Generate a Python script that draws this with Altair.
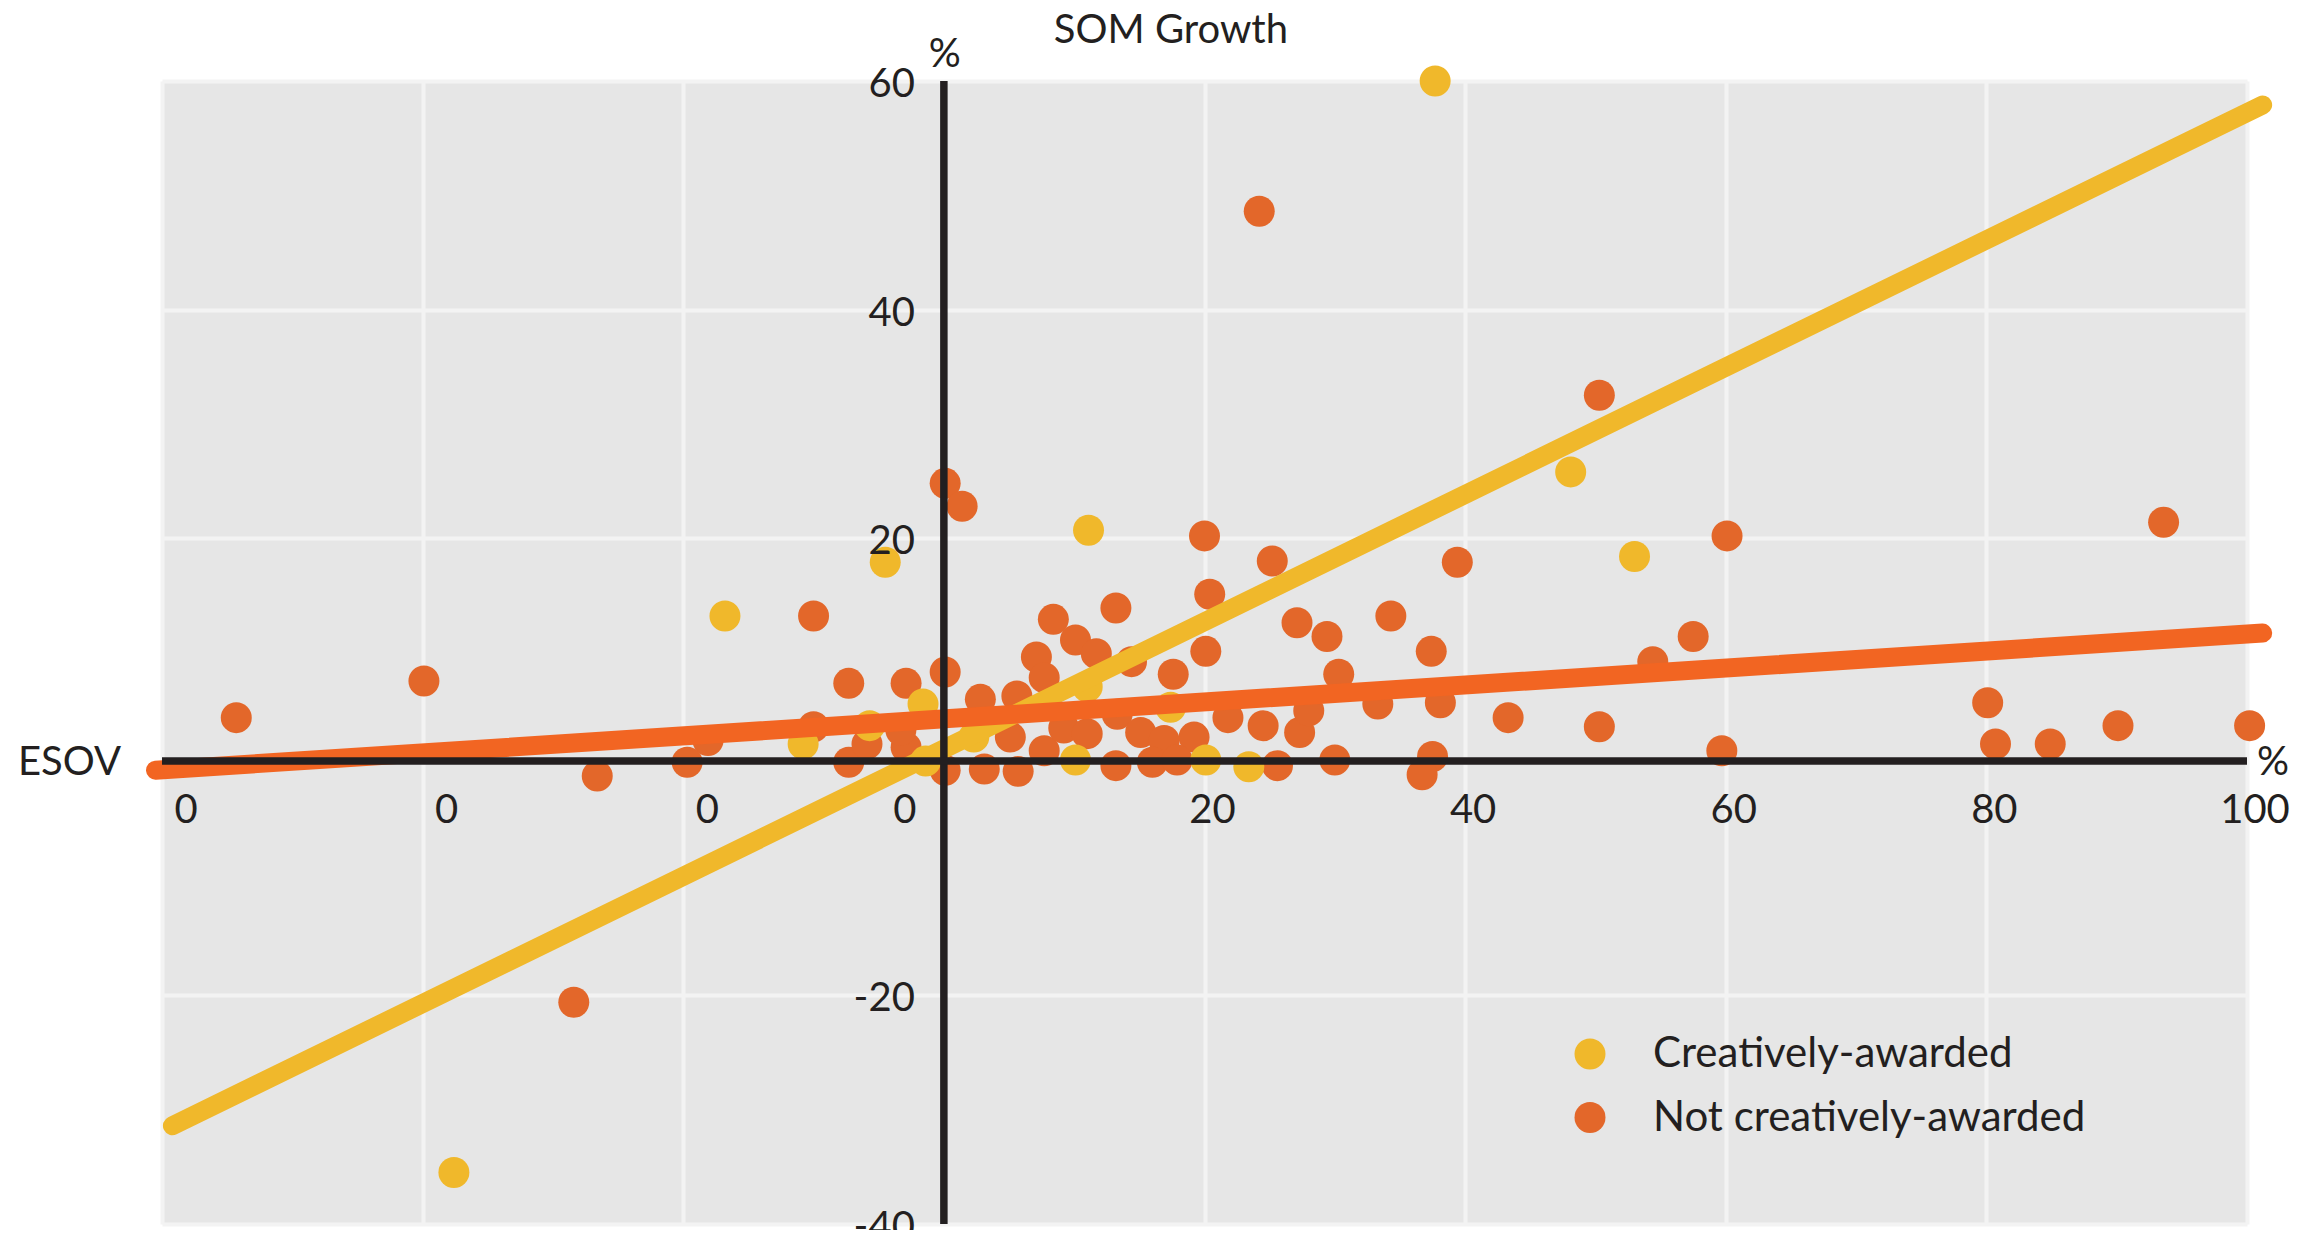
import altair as alt
import pandas as pd

FONT = "Lato"
INK = "#231f20"

# ---- data ----
groups = ["Creatively-awarded", "Not creatively-awarded"]
group_colors = ["#f0b82b", "#e3672a"]

awarded_x = [-37.6, -16.8, -4.5, -10.8, -5.7, -1.6, -1.4, 2.3, 11.0, 17.4, 10.1, 20.1, 23.4, 11.1, 37.7, 48.1, 53.0]
awarded_y = [-35.5, 13.2, 17.9, 2.0, 3.6, 5.5, 0.5, 2.6, 7.0, 5.2, 0.6, 0.6, 0.0, 20.7, 60.0, 25.8, 18.4]

not_awarded_x = [-54.3, -39.9, -26.6, -28.4, -10.0, -7.3, -2.9, 0.1, -10.0, -18.1, -19.7, -7.3, -5.9, -2.9, -3.3,
                 0.1, 2.8, 5.6, 7.1, 8.4, 10.1, 11.7, 13.2, 14.4, 20.4, 20.1, 17.6, 7.7, 13.3, 21.8,
                 5.1, 7.7, 9.2, 11.0, 15.1, 16.9, 19.2, 3.1, 5.7, 13.2, 16.0, 17.9, 0.1, 1.4, 20.0,
                 25.2, 24.2, 50.3, 39.4, 60.1, 27.1, 29.4, 34.3, 37.4, 30.3, 33.3, 38.1, 43.3, 24.5, 27.3,
                 28.0, 25.6, 30.0, 37.5, 36.7, 57.5, 54.4, 50.3, 59.7, 93.6, 80.1, 80.7, 84.9, 90.1, 100.2]
not_awarded_y = [4.3, 7.5, -0.8, -20.6, 13.2, 7.3, 7.3, 8.3, 3.5, 2.3, 0.4, 0.4, 2.0, 1.7, 3.2,
                 -0.3, 5.9, 6.2, 9.6, 12.9, 11.1, 9.9, 13.9, 9.2, 15.1, 10.1, 8.1, 7.8, 4.6, 4.3,
                 2.6, 1.4, 3.4, 2.9, 3.0, 2.3, 2.6, -0.2, -0.4, 0.1, 0.4, 0.6, 24.8, 22.8, 20.2,
                 18.0, 48.6, 32.5, 17.9, 20.2, 12.6, 11.4, 13.2, 10.1, 8.1, 5.5, 5.6, 4.3, 3.6, 3.0,
                 4.9, 0.1, 0.6, 0.9, -0.7, 11.4, 9.2, 3.5, 1.4, 21.4, 5.6, 2.0, 2.0, 3.6, 3.6]

trend_awarded_x = [-59.2, 101.2]
trend_awarded_y = [-31.4, 57.9]
trend_not_x = [-60.5, 101.2]
trend_not_y = [-0.3, 11.7]

x_ticks = [-60, -40, -20, 0, 20, 40, 60, 80, 100]
x_tick_labels = ["0", "0", "0", "0", "20", "40", "60", "80", "100"]
y_grid = [-40, -20, 20, 40, 60]
y_label_values = [-40, -20, 20, 40, 60]
y_label_texts = ["-40", "-20", "20", "40", "60"]

# level at which the reference draws its ESOV axis line (it sits slightly above the 0 grid position)
ESOV_AXIS_LEVEL = 0.5

X_DOMAIN = [-60, 100]
Y_DOMAIN = [-40, 60]

# ---- tables ----
points = pd.concat([
    pd.DataFrame({"esov": not_awarded_x, "som": not_awarded_y, "group": groups[1], "order": 0}),
    pd.DataFrame({"esov": awarded_x, "som": awarded_y, "group": groups[0], "order": 1}),
], ignore_index=True)

trend_aw = pd.DataFrame({"esov": trend_awarded_x, "som": trend_awarded_y})
trend_not = pd.DataFrame({"esov": trend_not_x, "som": trend_not_y})

xl = pd.DataFrame({"v": x_ticks, "t": x_tick_labels, "lvl": ESOV_AXIS_LEVEL})
xl_neg = xl[xl.v < 0]
xl_zero = xl[xl.v == 0]
xl_pos = xl[xl.v > 0]
yl = pd.DataFrame({"v": y_label_values, "t": y_label_texts, "lvl": 0})

xs = alt.Scale(domain=X_DOMAIN, nice=False, zero=False)
ys = alt.Scale(domain=Y_DOMAIN, nice=False, zero=False)

grid_x = alt.Axis(values=x_ticks, grid=True, labels=False, ticks=False, domain=False, title=None,
                  gridColor="#f3f3f3", gridWidth=4)
grid_y = alt.Axis(values=y_grid, grid=True, labels=False, ticks=False, domain=False, title=None,
                  gridColor="#f3f3f3", gridWidth=4)

pts = alt.Chart(points).mark_circle(size=960, opacity=1, clip=False).encode(
    x=alt.X("esov:Q", scale=xs, axis=grid_x),
    y=alt.Y("som:Q", scale=ys, axis=grid_y),
    color=alt.Color("group:N", scale=alt.Scale(domain=groups, range=group_colors),
                    legend=alt.Legend(title=None, orient="none", legendX=1407, legendY=952,
                                      direction="vertical", symbolType="circle", symbolSize=960,
                                      symbolStrokeWidth=0, symbolOpacity=1, labelFont=FONT,
                                      labelFontSize=42, labelColor=INK, labelOffset=42,
                                      labelLimit=0, rowPadding=21.5, padding=0)),
    order=alt.Order("order:Q"),
)

line_aw = alt.Chart(trend_aw).mark_line(color="#f0b82b", strokeWidth=19, strokeCap="round", clip=False).encode(
    x=alt.X("esov:Q", scale=xs), y=alt.Y("som:Q", scale=ys))
line_not = alt.Chart(trend_not).mark_line(color="#f26522", strokeWidth=19, strokeCap="round", clip=False).encode(
    x=alt.X("esov:Q", scale=xs), y=alt.Y("som:Q", scale=ys))

axis_v = alt.Chart(pd.DataFrame({"x": [0], "y1": [Y_DOMAIN[0]], "y2": [Y_DOMAIN[1]]})).mark_rule(
    color=INK, strokeWidth=7.5).encode(x=alt.X("x:Q", scale=xs), y=alt.Y("y1:Q", scale=ys), y2="y2:Q")
axis_h = alt.Chart(pd.DataFrame({"y": [ESOV_AXIS_LEVEL], "x1": [X_DOMAIN[0]], "x2": [X_DOMAIN[1]]})).mark_rule(
    color=INK, strokeWidth=7.5).encode(y=alt.Y("y:Q", scale=ys), x=alt.X("x1:Q", scale=xs), x2="x2:Q")

def tick_text(df, dx, dy, align, x_field, y_field):
    return alt.Chart(df).mark_text(font=FONT, fontSize=40, color=INK, align=align, baseline="middle",
                                   dx=dx, dy=dy, clip=False).encode(
        x=alt.X(f"{x_field}:Q", scale=xs), y=alt.Y(f"{y_field}:Q", scale=ys), text="t:N")

xlab_pos = tick_text(xl_pos, 8, 50, "center", "v", "lvl")
xlab_neg = tick_text(xl_neg, 24, 50, "center", "v", "lvl")
xlab_zero = tick_text(xl_zero, -39, 50, "center", "v", "lvl")
ylab = tick_text(yl, -29, 4, "right", "lvl", "v")

def note(text, xv, yv, dx, dy, align, baseline):
    return alt.Chart().mark_text(text=text, font=FONT, fontSize=40, color=INK, align=align,
                                 baseline=baseline, dx=dx, dy=dy, clip=False).encode(
        x=alt.datum(xv, scale=xs), y=alt.datum(yv, scale=ys))

title_note = note("SOM Growth", 0, 60, 227, -38, "center", "alphabetic")
pct_top = note("%", 0, 60, 1, -14, "center", "alphabetic")
esov_note = note("ESOV", -60, ESOV_AXIS_LEVEL, -41, 2, "right", "middle")
pct_right = note("%", 100, ESOV_AXIS_LEVEL, 10, 2, "left", "middle")

chart = alt.layer(
    pts, line_aw, line_not, axis_v, axis_h,
    xlab_pos, xlab_neg, xlab_zero, ylab,
    title_note, pct_top, esov_note, pct_right,
).properties(
    width=2085, height=1143,
    autosize=alt.AutoSizeParams(type="none"),
    padding={"left": 154, "top": 73, "right": 50, "bottom": 6},
    background="white",
).configure_view(fill="#e6e6e6", stroke="transparent")

chart.save("out.html", embed_options={"renderer": "svg", "actions": False})
